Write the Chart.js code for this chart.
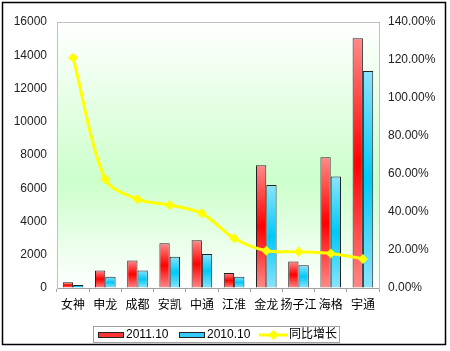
<!DOCTYPE html>
<html>
<head>
<meta charset="utf-8">
<script src="https://cdn.jsdelivr.net/npm/chart.js@4"></script>
<style>
  html, body { margin: 0; padding: 0; background: #fff; }
  canvas { display: block; }
</style>
</head>
<body>
<canvas id="myChart" width="450" height="351"></canvas>
<script>
const categories = ['女神', '申龙', '成都', '安凯', '中通', '江淮', '金龙', '扬子江', '海格', '宇通'];
const sales2011 = [340, 1060, 1660, 2690, 2870, 900, 7380, 1600, 7860, 15020];
const sales2010 = [180, 680, 1060, 1880, 2045, 680, 6200, 1365, 6700, 13050];
const growth = [121.2, 57.2, 46.7, 43.7, 39.3, 26.2, 19.6, 19.1, 18.2, 15.3];
const leftTicks = [0, 2000, 4000, 6000, 8000, 10000, 12000, 14000, 16000];
const rightTicks = [0, 20, 40, 60, 80, 100, 120, 140];

const FONT = 'Arial, "Liberation Sans", "Noto Sans CJK SC", sans-serif';

// vertical gradient per bar: light -> strong -> light
function barFill(light, strong) {
    return (context) => {
        const chart = context.chart;
        if (!chart.chartArea || context.type !== 'data') return strong;
        const y = chart.scales.y;
        const top = y.getPixelForValue(context.raw);
        const bottom = y.getPixelForValue(0);
        const g = chart.ctx.createLinearGradient(0, top, 0, bottom);
        g.addColorStop(0, light);
        g.addColorStop(0.5, strong);
        g.addColorStop(1, light);
        return g;
    };
}

const backgroundPlugin = {
    id: 'plotBackground',
    beforeDraw(chart) {
        const { ctx, chartArea: a } = chart;
        ctx.save();
        ctx.fillStyle = '#fff';
        ctx.fillRect(0, 0, chart.width, chart.height);
        const g = ctx.createLinearGradient(0, a.top, 0, a.bottom);
        g.addColorStop(0, '#ffffff');
        g.addColorStop(0.6, '#ccffcc');
        g.addColorStop(1, '#ffffff');
        ctx.fillStyle = g;
        ctx.fillRect(a.left, a.top, a.right - a.left, a.bottom - a.top);
        ctx.strokeStyle = '#c0c0c0';
        ctx.lineWidth = 1;
        ctx.strokeRect(a.left + 0.5, a.top + 0.5, a.right - a.left, a.bottom - a.top);
        ctx.restore();
    }
};

// legend box and outer frame
const legendPlugin = {
    id: 'legendBox',
    afterDraw(chart) {
        const ctx = chart.ctx;
        ctx.save();
        ctx.strokeStyle = '#000';
        ctx.lineWidth = 1.5;
        ctx.strokeRect(2.5, 2.5, 443, 342);

        ctx.strokeStyle = '#a0a0a0';
        ctx.lineWidth = 1;
        ctx.strokeRect(93.5, 326.5, 246, 16);

        ctx.font = '12px ' + FONT;
        ctx.textBaseline = 'middle';

        ctx.fillStyle = '#ff3333';
        ctx.fillRect(98, 332, 26, 6);
        ctx.strokeStyle = '#222';
        ctx.strokeRect(98.5, 332.5, 25, 5);
        ctx.fillStyle = '#000';
        ctx.fillText('2011.10', 126, 335);

        ctx.fillStyle = '#33ccff';
        ctx.fillRect(179, 332, 26, 6);
        ctx.strokeRect(179.5, 332.5, 25, 5);
        ctx.fillStyle = '#000';
        ctx.fillText('2010.10', 207, 335);

        ctx.strokeStyle = '#ffff00';
        ctx.lineWidth = 3;
        ctx.beginPath();
        ctx.moveTo(259, 335);
        ctx.lineTo(288, 335);
        ctx.stroke();
        ctx.fillStyle = '#ffff00';
        ctx.beginPath();
        ctx.moveTo(273.5, 330);
        ctx.lineTo(278.5, 335);
        ctx.lineTo(273.5, 340);
        ctx.lineTo(268.5, 335);
        ctx.closePath();
        ctx.fill();
        ctx.fillStyle = '#000';
        ctx.fillText('同比增长', 289, 335);
        ctx.restore();
    }
};

const ctx = document.getElementById('myChart').getContext('2d');

const myChart = new Chart(ctx, {
    type: 'bar',
    data: {
        labels: categories,
        datasets: [
            {
                type: 'line',
                label: '同比增长',
                data: growth,
                yAxisID: 'y1',
                borderColor: '#ffff00',
                backgroundColor: '#ffff00',
                borderWidth: 3,
                pointStyle: 'rectRot',
                pointRadius: 5,
                pointBorderWidth: 0,
                tension: 0.3,
                order: 0
            },
            {
                label: '2011.10',
                data: sales2011,
                yAxisID: 'y',
                backgroundColor: barFill('#ff8a8a', '#ff0000'),
                borderColor: '#222',
                borderWidth: 1,
                order: 1
            },
            {
                label: '2010.10',
                data: sales2010,
                yAxisID: 'y',
                backgroundColor: barFill('#8ae4ff', '#00c8f8'),
                borderColor: '#222',
                borderWidth: 1,
                order: 1
            }
        ]
    },
    options: {
        responsive: false,
        animation: false,
        layout: { padding: { top: 22, bottom: 33, left: 0, right: 0 } },
        datasets: {
            bar: { categoryPercentage: 0.64, barPercentage: 1 }
        },
        plugins: {
            legend: { display: false },
            tooltip: { enabled: false }
        },
        scales: {
            x: {
                grid: { drawOnChartArea: false, tickLength: 4, color: '#a0a0a0', offset: true },
                border: { color: '#a0a0a0' },
                ticks: { color: '#000', font: { size: 12, family: FONT }, padding: 6, maxRotation: 0, autoSkip: false },
                afterFit(scale) { scale.height = 30; }
            },
            y: {
                position: 'left',
                min: 0,
                max: 16000,
                afterBuildTicks(scale) { scale.ticks = leftTicks.map(v => ({ value: v })); },
                grid: { drawOnChartArea: false, drawTicks: false },
                border: { color: '#c0c0c0' },
                ticks: {
                    color: '#222',
                    font: { size: 12, family: FONT },
                    padding: 10,
                    callback: (v) => String(v)
                },
                afterFit(scale) { scale.width = 57; }
            },
            y1: {
                position: 'right',
                min: 0,
                max: 140,
                afterBuildTicks(scale) { scale.ticks = rightTicks.map(v => ({ value: v })); },
                grid: { drawOnChartArea: false, drawTicks: false },
                border: { color: '#c0c0c0' },
                ticks: {
                    color: '#222',
                    font: { size: 12, family: FONT },
                    padding: 9,
                    callback: (v) => v.toFixed(2) + '%'
                },
                afterFit(scale) { scale.width = 71; }
            }
        }
    },
    plugins: [backgroundPlugin, legendPlugin]
});
</script>
</body>
</html>
